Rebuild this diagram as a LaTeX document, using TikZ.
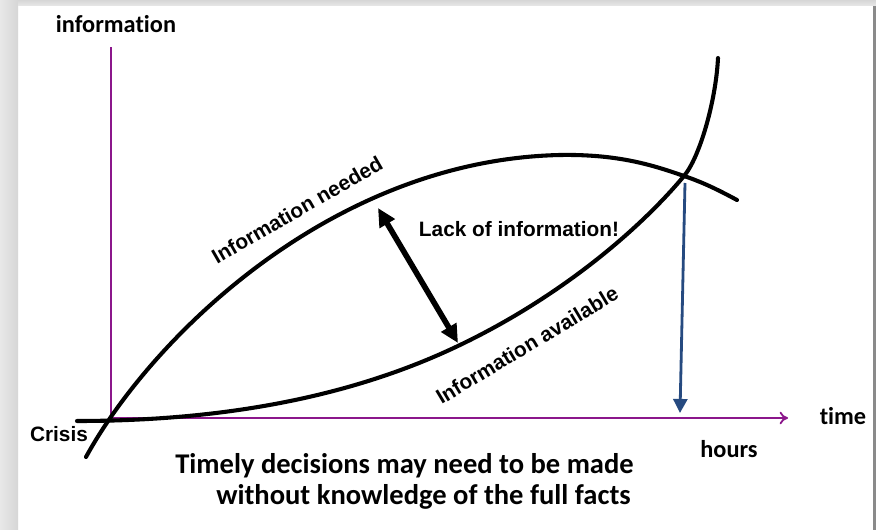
\documentclass[tikz,border=0pt]{standalone}
\usepackage{fontspec}
\setmainfont{Carlito}[Ligatures=NoCommon]
\newfontfamily\helv{Liberation Sans}
\usepackage{tikz}
\usetikzlibrary{arrows.meta,positioning}
\definecolor{axispurple}{RGB}{139,22,139}
\definecolor{markblue}{RGB}{38,74,128}
\definecolor{edgelight}{RGB}{232,232,232}
\definecolor{edgemid}{RGB}{214,214,214}
\definecolor{edgedark}{RGB}{138,138,138}

\begin{document}
\begin{tikzpicture}[x=0.025cm, y=-0.025cm]

\tikzstyle{axis} = [axispurple, line width=1.3pt]
\tikzstyle{curve} = [line width=2.9pt, line cap=round]
\tikzstyle{lbl} = [font=\bfseries\fontsize{17.3}{20}\selectfont, inner sep=0pt]
\tikzstyle{curvelbl} = [font=\helv\bfseries\fontsize{14.8}{17}\selectfont, inner sep=0pt]
\tikzstyle{msgline} = [font=\bfseries\fontsize{20.3}{24}\selectfont, inner sep=0pt, anchor=base west]
\tikzstyle{arrow} = [line width=4pt, {Triangle[length=13pt,width=12pt]}-{Triangle[length=13pt,width=12pt]}]
\tikzstyle{droparrow} = [markblue, line width=2pt, -{Triangle[length=10pt,width=10pt]}]

% slide frame
\useasboundingbox (0,0) rectangle (876,530);
\fill[white] (0,0) rectangle (876,530);
\shade[left color=edgelight, right color=edgemid] (0,0) rectangle (18,530);
\shade[top color=edgemid, bottom color=edgelight] (18,0) rectangle (876,6);
\fill[edgedark] (873,6) rectangle (876,530);

% axes
\coordinate (o) at (111,418);
\coordinate (ytop) at (111,47);
\coordinate (xend) at (788,418);
\draw [axis] (o) -- (ytop);
\draw [axis, -{To[length=6pt,width=9pt]}] (o) -- (xend);

% needed / available curves, both through the crossing point
\coordinate (cross) at (684,176);
\draw [curve] (86,457) .. controls (150,340) and (330,160) .. (560,155)
   .. controls (620,154) and (655,166) .. (cross)
   .. controls (705,183) and (722,192) .. (737,200);
\draw [curve] (77,421) .. controls (220,421) and (350,398) .. (460,345)
   .. controls (560,297) and (639,230) .. (cross)
   .. controls (700,157) and (716,100) .. (718,58);

\coordinate (need) at (378,208);
\coordinate (avail) at (458,343);
\coordinate (hit) at (685,183);
\coordinate (foot) at (680,413);
\draw [arrow] (need) -- (avail);
\draw [droparrow] (hit) -- (foot);

\node (yl) [lbl, anchor=base] at (116,33) {information};
\node (tl) [lbl, anchor=base] at (843,425) {time};
\node (hl) [lbl, anchor=base] at (729,458) {hours};
\node (cl) [curvelbl, anchor=base] at (59,442) {Crisis};
\node (ll) [curvelbl, anchor=base] at (519,237) {Lack of information!};
\node (nl) [curvelbl, rotate=30] at (297,210) {Information needed};
\node (al) [curvelbl, rotate=31] at (527,345) {Information available};
\node (m1) [msgline] at (175,474) {Timely decisions may need to be made};
\node (m2) [msgline] at (216,505) {without knowledge of the full facts};
\end{tikzpicture}
\end{document}
